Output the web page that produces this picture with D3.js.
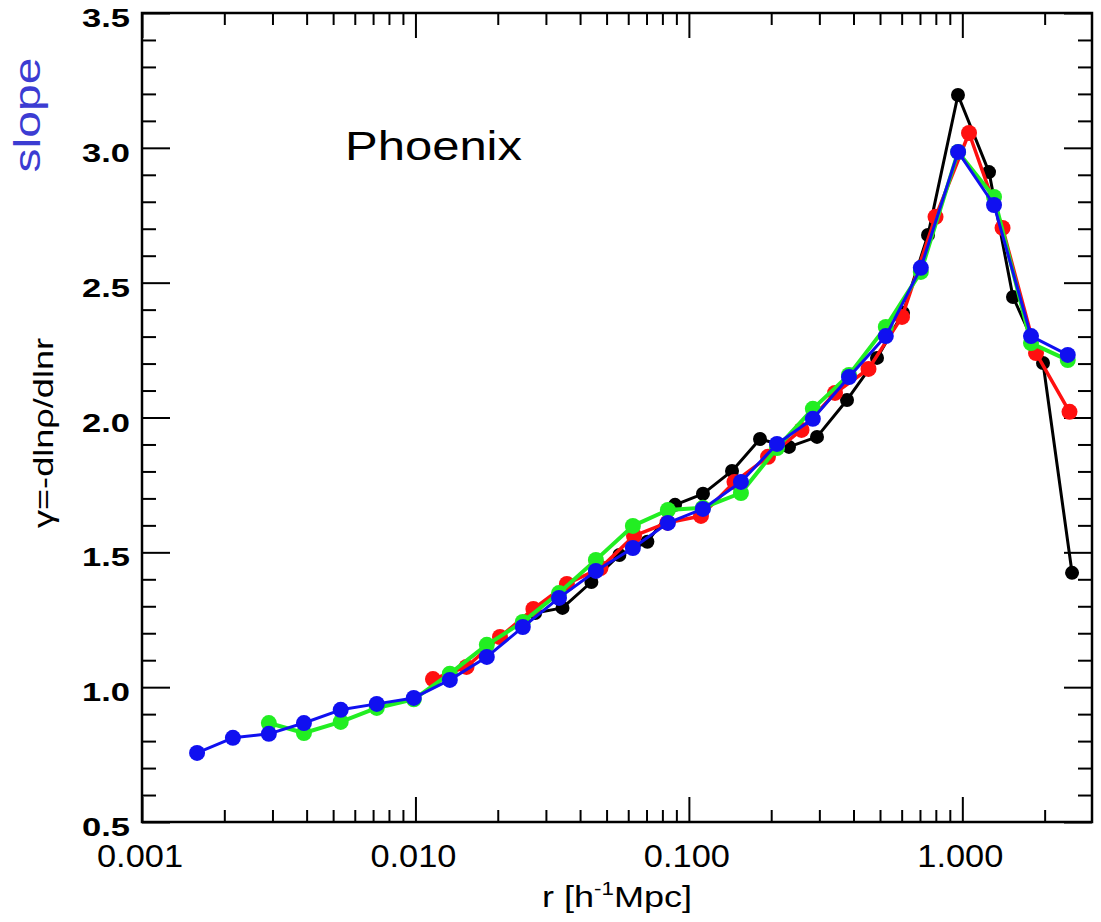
<!DOCTYPE html>
<html>
<head>
<meta charset="utf-8">
<script src="https://cdn.jsdelivr.net/npm/d3@7"></script>
<style>
  body { margin: 0; background: #fff; }
  text { font-family: "Liberation Sans", Arial, sans-serif; }
</style>
</head>
<body>
<div id="chart"></div>
<script>
// r values [h^-1 Mpc] and slopes
const rBlue = [0.00159, 0.00215, 0.00291, 0.00391, 0.00533, 0.00722, 0.00986, 0.01336, 0.01824, 0.0247,
  0.0335, 0.0457, 0.0624, 0.0838, 0.1125, 0.155, 0.210, 0.284, 0.385, 0.525, 0.705, 0.965, 1.306, 1.783, 2.43];
const gBlue = [0.756, 0.812, 0.827, 0.867, 0.916, 0.938, 0.960, 1.027, 1.112, 1.223,
  1.331, 1.431, 1.516, 1.609, 1.661, 1.761, 1.902, 1.995, 2.150, 2.302, 2.555, 2.985, 2.788, 2.302, 2.232];

const rGreen = rBlue.slice(2);
const gGreen = [0.867, 0.830, 0.871, 0.923, 0.955, 1.050, 1.157, 1.242,
  1.349, 1.472, 1.598, 1.657, 1.665, 1.720, 1.887, 2.032, 2.158, 2.336, 2.540, 2.985, 2.818, 2.276, 2.213];

const rRed = [0.01159, 0.01537, 0.02038, 0.0270, 0.0358, 0.0475, 0.0630, 0.0835, 0.1107, 0.1468,
  0.1947, 0.2582, 0.3423, 0.4538, 0.6017, 0.798, 1.058, 1.403, 1.860, 2.466];
const gRed = [1.030, 1.075, 1.186, 1.290, 1.383, 1.442, 1.561, 1.610, 1.635, 1.761,
  1.854, 1.954, 2.091, 2.180, 2.373, 2.744, 3.055, 2.703, 2.239, 2.021];

const rBlack = [0.0274, 0.0345, 0.0440, 0.0557, 0.0705, 0.0890, 0.1126, 0.1438, 0.1820, 0.2323,
  0.2941, 0.3787, 0.4876, 0.6069, 0.749, 0.964, 1.252, 1.532, 1.973, 2.519];
const gBlack = [1.275, 1.294, 1.390, 1.490, 1.539, 1.676, 1.717, 1.802, 1.920, 1.891,
  1.928, 2.065, 2.221, 2.388, 2.677, 3.196, 2.910, 2.447, 2.202, 1.424];

const xMajor = [0.001, 0.01, 0.1, 1];
const xLabels = ["0.001", "0.010", "0.100", "1.000"];
const yMajor = [0.5, 1.0, 1.5, 2.0, 2.5, 3.0, 3.5];
const yLabels = ["0.5", "1.0", "1.5", "2.0", "2.5", "3.0", "3.5"];

const width = 1101, height = 922;
const margin = { top: 13, right: 9, bottom: 100, left: 142 };
const w = width - margin.left - margin.right;
const h = height - margin.top - margin.bottom;

const svg = d3.select("#chart").append("svg")
  .attr("width", width)
  .attr("height", height);

const g = svg.append("g")
  .attr("transform", `translate(${margin.left},${margin.top})`);

const x = d3.scaleLog().domain([0.001, 2.98]).range([0, w]);
const y = d3.scaleLinear().domain([0.5, 3.5]).range([h, 0]);

// minor tick positions
const xMinor = [];
[0.001, 0.01, 0.1, 1].forEach(d => {
  for (let k = 2; k <= 9; k++) {
    const v = d * k;
    if (v <= 2.98) xMinor.push(v);
  }
});
const yMinor = d3.range(5, 36).map(v => v / 10).filter(v => !yMajor.some(m => Math.abs(m - v) < 1e-6));

function tickAxis(axis, vals, size) {
  return axis.tickValues(vals).tickSize(size).tickFormat("");
}

function styleTicks(sel) {
  sel.select(".domain").remove();
  sel.selectAll("line").attr("stroke", "#000").attr("stroke-width", 2);
}

// bottom / top
g.append("g").attr("transform", `translate(0,${h})`)
  .call(tickAxis(d3.axisBottom(x), xMinor, -12)).call(styleTicks);
g.append("g").attr("transform", `translate(0,${h})`)
  .call(tickAxis(d3.axisBottom(x), xMajor, -25)).call(styleTicks);
g.append("g")
  .call(tickAxis(d3.axisTop(x), xMinor, -12)).call(styleTicks);
g.append("g")
  .call(tickAxis(d3.axisTop(x), xMajor, -25)).call(styleTicks);

// left / right
g.append("g")
  .call(tickAxis(d3.axisLeft(y), yMinor, -14)).call(styleTicks);
g.append("g")
  .call(tickAxis(d3.axisLeft(y), yMajor, -28)).call(styleTicks);
g.append("g").attr("transform", `translate(${w},0)`)
  .call(tickAxis(d3.axisRight(y), yMinor, -14)).call(styleTicks);
g.append("g").attr("transform", `translate(${w},0)`)
  .call(tickAxis(d3.axisRight(y), yMajor, -28)).call(styleTicks);

// frame
g.append("rect")
  .attr("width", w).attr("height", h)
  .attr("fill", "none").attr("stroke", "#000").attr("stroke-width", 2.5);

// tick labels
g.selectAll(".xlab").data(xMajor).enter().append("text")
  .attr("class", "xlab")
  .attr("x", d => x(d) - 2)
  .attr("y", h + 45)
  .attr("text-anchor", "middle")
  .attr("font-size", 32)
  .attr("textLength", 86)
  .attr("lengthAdjust", "spacingAndGlyphs")
  .text((d, i) => xLabels[i]);

g.selectAll(".ylab").data(yMajor).enter().append("text")
  .attr("class", "ylab")
  .attr("x", -12)
  .attr("y", d => y(d) + 14)
  .attr("text-anchor", "end")
  .attr("font-size", 26)
  .attr("font-weight", "bold")
  .attr("textLength", 48)
  .attr("lengthAdjust", "spacingAndGlyphs")
  .text((d, i) => yLabels[i]);

// series
const series = [
  { r: rBlack, g: gBlack, color: "#000000", lw: 3, rad: 7 },
  { r: rRed, g: gRed, color: "#ff1010", lw: 3.5, rad: 8 },
  { r: rGreen, g: gGreen, color: "#22ee22", lw: 4, rad: 8 },
  { r: rBlue, g: gBlue, color: "#1010f0", lw: 3, rad: 8 }
];

const line = d3.line().x(d => x(d[0])).y(d => y(d[1]));

series.forEach(s => {
  const pts = s.r.map((r, i) => [r, s.g[i]]);
  g.append("path")
    .datum(pts)
    .attr("d", line)
    .attr("fill", "none")
    .attr("stroke", s.color)
    .attr("stroke-width", s.lw)
    .attr("stroke-linejoin", "round");
  g.append("g").selectAll("circle").data(pts).enter().append("circle")
    .attr("cx", d => x(d[0]))
    .attr("cy", d => y(d[1]))
    .attr("r", s.rad)
    .attr("fill", s.color);
});

// titles
g.append("text")
  .attr("x", 203).attr("y", 147)
  .attr("font-size", 40)
  .attr("textLength", 177)
  .attr("lengthAdjust", "spacingAndGlyphs")
  .text("Phoenix");

const xt = svg.append("text")
  .attr("x", 542).attr("y", 907)
  .attr("font-size", 29)
  .attr("textLength", 150)
  .attr("lengthAdjust", "spacingAndGlyphs");
xt.append("tspan").text("r [h");
xt.append("tspan").attr("dy", -12).attr("font-size", 18).text("-1");
xt.append("tspan").attr("dy", 12).text("Mpc]");

svg.append("text")
  .attr("transform", "translate(53,433) rotate(-90)")
  .attr("text-anchor", "middle")
  .attr("font-size", 28)
  .attr("textLength", 190)
  .attr("lengthAdjust", "spacingAndGlyphs")
  .text("γ=-dlnρ/dlnr");

svg.append("text")
  .attr("transform", "translate(40,115) rotate(-90)")
  .attr("text-anchor", "middle")
  .attr("font-size", 36)
  .attr("fill", "#3c3cd2")
  .attr("textLength", 115)
  .attr("lengthAdjust", "spacingAndGlyphs")
  .text("slope");
</script>
</body>
</html>
